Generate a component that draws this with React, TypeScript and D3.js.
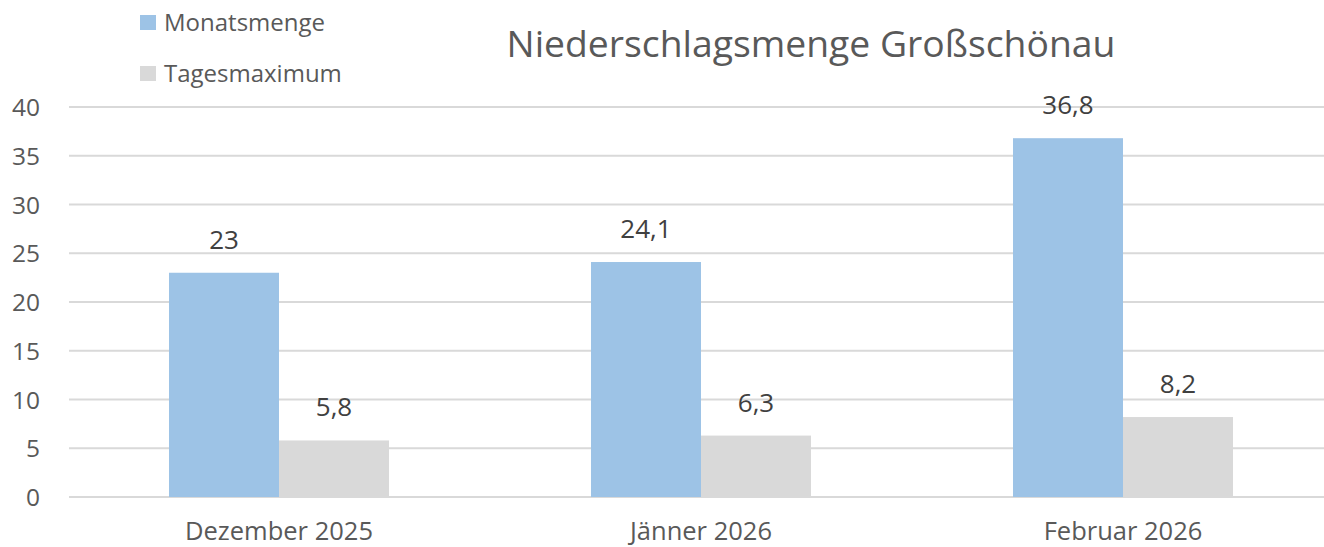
import React from "react";
import * as d3 from "d3";

const categories = ["Dezember 2025", "Jänner 2026", "Februar 2026"];
const seriesNames = ["Monatsmenge", "Tagesmaximum"];
const monatsmenge = [23, 24.1, 36.8];
const tagesmaximum = [5.8, 6.3, 8.2];
const yTicks = [0, 5, 10, 15, 20, 25, 30, 35, 40];
const title = "Niederschlagsmenge Großschönau";

const colors = ["#9DC3E6", "#D9D9D9"];
const W = 1324;
const H = 547;
const FONT = "'Open Sans', 'Noto Sans', sans-serif";

export default function App() {
  const series = [monatsmenge, tagesmaximum];
  const x0 = d3.scaleBand<string>().domain(categories).range([68, 1334]).paddingInner(0).paddingOuter(0);
  const x1 = d3
    .scaleBand<string>()
    .domain(seriesNames)
    .range([0, x0.bandwidth()])
    .paddingInner(0)
    .paddingOuter(0.918);
  const y = d3.scaleLinear().domain([0, 40]).range([497, 107]);
  const fmt = (v: number) => String(v).replace(".", ",");

  return (
    <svg width={W} height={H} style={{ position: "absolute", left: 0, top: 0, background: "#fff" }} fontFamily={FONT}>
      {yTicks.map((t) => (
        <g key={t}>
          <line x1={69} x2={1334} y1={y(t)} y2={y(t)} stroke="#D9D9D9" strokeWidth={2} />
          <text x={40} y={y(t) + 9} textAnchor="end" fontSize={24.5} fill="#595959">
            {t}
          </text>
        </g>
      ))}
      {categories.map((c, i) => (
        <g key={c} transform={`translate(${x0(c)},0)`}>
          {seriesNames.map((s, j) => {
            const v = series[j][i];
            const bx = x1(s)!;
            return (
              <g key={s}>
                <rect x={bx} y={y(v)} width={x1.bandwidth()} height={y(0) - y(v)} fill={colors[j]} />
                <text
                  x={bx + x1.bandwidth() / 2}
                  y={y(v) - 24}
                  textAnchor="middle"
                  fontSize={26}
                  fill="#404040"
                >
                  {fmt(v)}
                </text>
              </g>
            );
          })}
          <text x={x0.bandwidth() / 2} y={540} textAnchor="middle" fontSize={25.5} fill="#595959">
            {c}
          </text>
        </g>
      ))}
      <text x={811} y={57} textAnchor="middle" fontSize={37.3} fill="#595959">
        {title}
      </text>
      {seriesNames.map((s, j) => (
        <g key={s} transform={`translate(140,${15 + j * 51})`}>
          <rect x={0} y={0} width={16} height={15} fill={colors[j]} />
          <text x={24} y={15.5} fontSize={24} fill="#595959">
            {s}
          </text>
        </g>
      ))}
    </svg>
  );
}
